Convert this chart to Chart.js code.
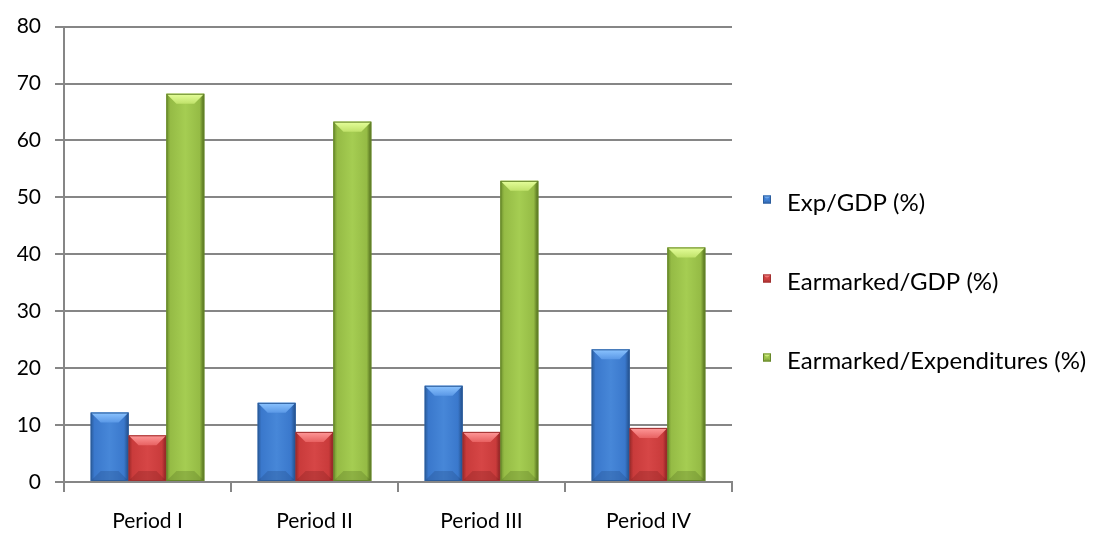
<!DOCTYPE html>
<html>
<head>
<meta charset="utf-8">
<script src="https://cdn.jsdelivr.net/npm/chart.js@4.4.1/dist/chart.umd.min.js"></script>
<style>
  html, body { margin: 0; padding: 0; background: #ffffff; }
  #wrap { width: 1099px; height: 536px; position: relative; }
</style>
</head>
<body>
<div id="wrap"><canvas id="chart"></canvas></div>
<script>
// Categories, series and tick values
const periods = ['Period I', 'Period II', 'Period III', 'Period IV'];
const seriesNames = ['Exp/GDP (%)', 'Earmarked/GDP (%)', 'Earmarked/Expenditures (%)'];
const expGdp = [12.2, 13.9, 16.9, 23.3];
const earmarkedGdp = [8.2, 8.8, 8.8, 9.5];
const earmarkedExp = [68.2, 63.3, 52.9, 41.2];
const yTicks = [0, 10, 20, 30, 40, 50, 60, 70, 80];

const FONT = 'Lato';
const GRID = '#868686';

// Bevelled bar palettes
const palettes = [
  { base: '#3a78cc', light: '#4787d8', edge: '#2a5b9c', edgeR: '#224d86', hi: '#8cc4ff', hi2: '#5a98e6', low: 'rgba(25,55,105,0.22)', line: '#2c5d9c' },
  { base: '#c93b3b', light: '#d64646', edge: '#9a2828', edgeR: '#852020', hi: '#ff9a9a', hi2: '#e86262', low: 'rgba(100,20,20,0.22)', line: '#a03030' },
  { base: '#95bb45', light: '#a5cd52', edge: '#6d8f2c', edgeR: '#4d681a', hi: '#e6ff9c', hi2: '#c0e26a', low: 'rgba(60,80,20,0.22)', line: '#66862a' }
];

function shadeRect(ctx, l, t, r, b, pal, bevel) {
  const w = r - l, h = b - t;
  if (w <= 0 || h <= 0) return;
  const g = ctx.createLinearGradient(l, 0, r, 0);
  g.addColorStop(0, pal.edge);
  g.addColorStop(0.1, pal.base);
  g.addColorStop(0.5, pal.light);
  g.addColorStop(0.88, pal.base);
  g.addColorStop(1, pal.edgeR);
  ctx.fillStyle = g;
  ctx.fillRect(l, t, w, h);
  const k = Math.min(bevel, w / 2, h / 2);
  // lit top facet
  ctx.beginPath();
  ctx.moveTo(l, t); ctx.lineTo(r, t); ctx.lineTo(r - k, t + k); ctx.lineTo(l + k, t + k);
  ctx.closePath();
  const gt = ctx.createLinearGradient(0, t, 0, t + k);
  gt.addColorStop(0, pal.hi);
  gt.addColorStop(1, pal.hi2);
  ctx.fillStyle = gt;
  ctx.fill();
  // shaded bottom facet
  ctx.beginPath();
  ctx.moveTo(l, b); ctx.lineTo(r, b); ctx.lineTo(r - k, b - k); ctx.lineTo(l + k, b - k);
  ctx.closePath();
  ctx.fillStyle = pal.low;
  ctx.fill();
  ctx.strokeStyle = pal.line;
  ctx.lineWidth = 1;
  ctx.strokeRect(l + 0.5, t + 0.5, w - 1, h - 1);
}

// Repaints each bar element with a bevelled look
const bevelBars = {
  id: 'bevelBars',
  afterDatasetsDraw(chart) {
    const ctx = chart.ctx;
    chart.data.datasets.forEach((ds, di) => {
      const meta = chart.getDatasetMeta(di);
      if (meta.hidden) return;
      meta.data.forEach(el => {
        const p = el.getProps(['x', 'y', 'base', 'width'], true);
        const l = p.x - p.width / 2, r = p.x + p.width / 2;
        const t = Math.min(p.y, p.base), b = Math.max(p.y, p.base);
        ctx.save();
        shadeRect(ctx, l, t, r, b, palettes[di], 10);
        ctx.restore();
      });
    });
  }
};

// Legend drawn to the right of the plot area
const sideLegend = {
  id: 'sideLegend',
  afterDraw(chart) {
    const ctx = chart.ctx;
    const boxX = 763, textX = 787, firstBaseline = 210.5, step = 79, box = 8;
    ctx.save();
    ctx.font = '24px ' + FONT;
    ctx.textAlign = 'left';
    ctx.textBaseline = 'alphabetic';
    chart.data.datasets.forEach((ds, i) => {
      const yb = firstBaseline + i * step;
      const top = yb - 15;
      shadeRect(ctx, boxX, top, boxX + box, top + box, palettes[i], 3);
      ctx.fillStyle = '#000000';
      ctx.fillText(ds.label, textX, yb);
    });
    ctx.restore();
  }
};

const datasets = [expGdp, earmarkedGdp, earmarkedExp].map((vals, i) => ({
  label: seriesNames[i],
  data: vals,
  backgroundColor: palettes[i].base,
  borderWidth: 0,
  barPercentage: 1.0,
  categoryPercentage: 0.68
}));

new Chart(document.getElementById('chart'), {
  type: 'bar',
  data: { labels: periods, datasets },
  options: {
    responsive: true,
    maintainAspectRatio: false,
    animation: false,
    devicePixelRatio: 1,
    layout: { padding: { top: 24, right: 367, bottom: 0, left: 0 } },
    plugins: {
      legend: { display: false },
      tooltip: { enabled: false },
      title: { display: false }
    },
    scales: {
      x: {
        grid: { display: true, drawOnChartArea: false, drawTicks: true, tickLength: 10, color: GRID, lineWidth: 2, offset: true },
        border: { display: true, color: GRID, width: 2 },
        ticks: { color: '#000000', font: { family: FONT, size: 21 }, padding: 17, maxRotation: 0 },
        afterFit(scale) { scale.height = 54; }
      },
      y: {
        min: 0,
        max: 80,
        grid: { color: GRID, lineWidth: 2, tickLength: 9, drawTicks: true },
        border: { display: true, color: GRID, width: 2 },
        ticks: { color: '#000000', font: { family: FONT, size: 21 }, padding: 14 },
        afterBuildTicks(scale) { scale.ticks = yTicks.map(v => ({ value: v })); },
        afterFit(scale) { scale.width = 64; }
      }
    }
  },
  plugins: [bevelBars, sideLegend]
});
</script>
</body>
</html>
